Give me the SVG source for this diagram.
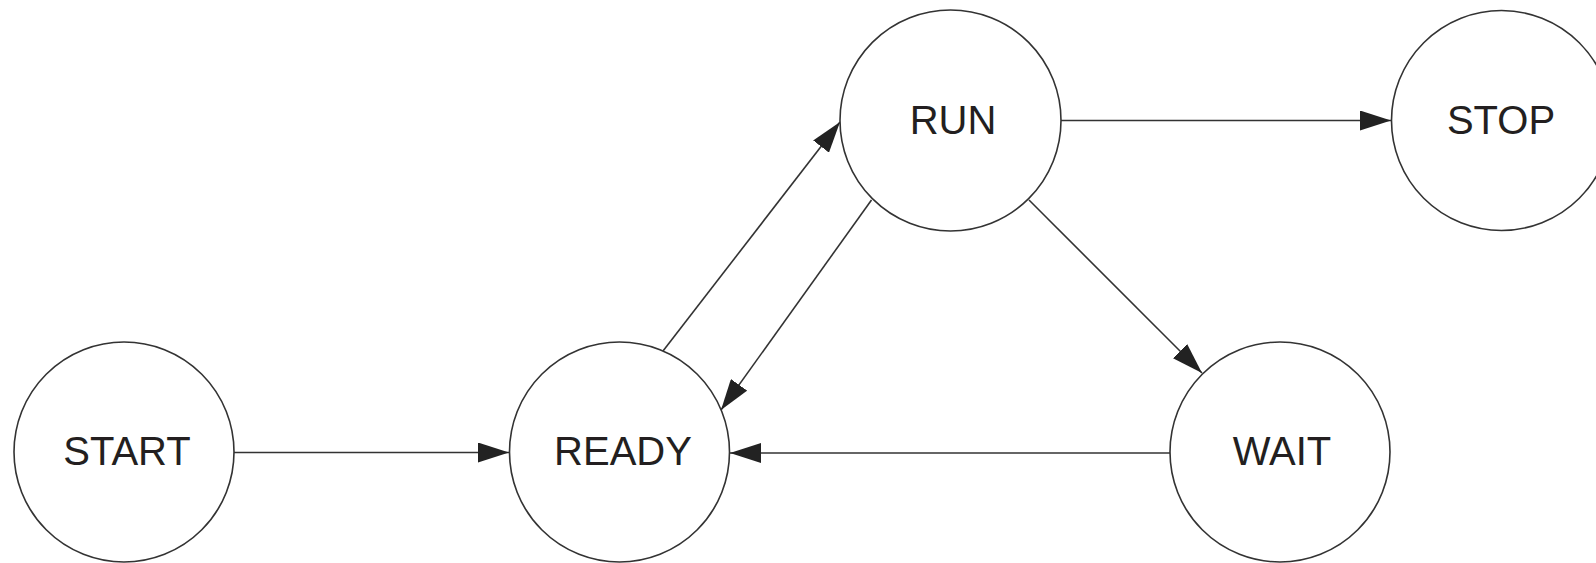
<svg xmlns="http://www.w3.org/2000/svg" width="1596" height="563" viewBox="0 0 1596 563">
<style>
.node circle{fill:#fff;stroke:#333;stroke-width:1.6}
.node text{font-family:"Liberation Sans",Arial,sans-serif;font-size:40px;fill:#231f20;text-anchor:middle}
.edge{stroke:#333;stroke-width:1.6;fill:none;marker-end:url(#arr)}
</style>
<defs>
<marker id="arr" markerUnits="userSpaceOnUse" markerWidth="32" markerHeight="20" refX="31" refY="10" orient="auto" viewBox="0 0 32 20">
<path d="M0,0 L31,10 L0,20 z" fill="#222"/>
</marker>
</defs>
<rect width="1596" height="563" fill="#fff"/>
<g id="connectors">
<line class="edge" x1="234" y1="452.5" x2="509" y2="452.5"/>
<line class="edge" x1="1061" y1="120.5" x2="1391" y2="120.5"/>
<line class="edge" x1="1170" y1="453" x2="730" y2="453"/>
<line class="edge" x1="663" y1="351" x2="840" y2="122"/>
<line class="edge" x1="871.5" y1="200" x2="721" y2="410"/>
<line class="edge" x1="1029" y1="200" x2="1202" y2="373"/>
</g>
<g id="start" class="node"><circle cx="124" cy="452" r="110"/><text x="127" y="465">START</text></g>
<g id="ready" class="node"><circle cx="619.5" cy="452" r="110"/><text x="623" y="465">READY</text></g>
<g id="run" class="node"><circle cx="950.5" cy="120.5" r="110.5"/><text x="953" y="133.5">RUN</text></g>
<g id="stop" class="node"><circle cx="1501.5" cy="120.5" r="110"/><text x="1501" y="133.5">STOP</text></g>
<g id="wait" class="node"><circle cx="1280" cy="452" r="110"/><text x="1282" y="465">WAIT</text></g>
</svg>
